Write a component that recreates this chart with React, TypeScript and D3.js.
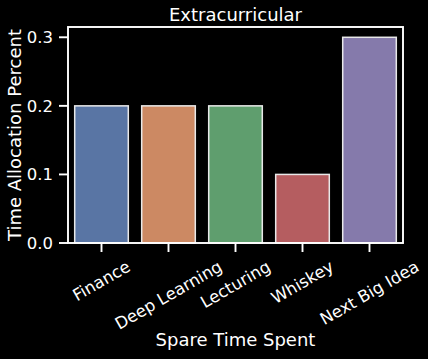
import React, { useEffect, useRef } from "react";
import * as d3 from "d3";

const categories = ["Finance", "Deep Learning", "Lecturing", "Whiskey", "Next Big Idea"];
const values = [0.2, 0.2, 0.2, 0.1, 0.3];
const colors = ["#5975a4", "#cc8963", "#5f9e6e", "#b55d60", "#857aab"];
const yTicks = [0.0, 0.1, 0.2, 0.3];

const W = 428, H = 359;
const L = 68, R = 403, T = 27, B = 243;
const FONT = "'DejaVu Sans', sans-serif";

export default function App() {
  const ref = useRef<SVGSVGElement>(null);
  useEffect(() => {
    const svg = d3.select(ref.current!);
    svg.selectAll("*").remove();
    svg.append("rect").attr("width", W).attr("height", H).attr("fill", "#000");

    const x = d3.scaleBand<string>().domain(categories).range([L, R]).paddingInner(0.2).paddingOuter(0.1);
    const y = d3.scaleLinear().domain([0, 0.315]).range([B, T]);

    svg.append("g").selectAll("rect").data(values).join("rect")
      .attr("x", (_, i) => x(categories[i])!)
      .attr("width", x.bandwidth())
      .attr("y", d => y(d))
      .attr("height", d => B - y(d))
      .attr("fill", (_, i) => colors[i])
      .attr("stroke", "#e8e8e8")
      .attr("stroke-width", 1.5);

    // frame
    svg.append("rect").attr("x", L).attr("y", T).attr("width", R - L).attr("height", B - T)
      .attr("fill", "none").attr("stroke", "#fff").attr("stroke-width", 1.9);

    // y ticks
    const yg = svg.append("g");
    yTicks.forEach(t => {
      yg.append("line").attr("x1", L - 9).attr("x2", L).attr("y1", y(t)).attr("y2", y(t))
        .attr("stroke", "#fff").attr("stroke-width", 1.9);
      yg.append("text").attr("x", L - 15).attr("y", y(t)).attr("dy", "0.35em")
        .attr("text-anchor", "end").attr("fill", "#fff").attr("font-family", FONT)
        .attr("font-size", 16.5).text(d3.format(".1f")(t));
    });

    // x ticks
    const xg = svg.append("g");
    categories.forEach(c => {
      const cx = x(c)! + x.bandwidth() / 2;
      xg.append("line").attr("x1", cx).attr("x2", cx).attr("y1", B).attr("y2", B + 9)
        .attr("stroke", "#fff").attr("stroke-width", 1.9);
      const txt = xg.append("text").attr("fill", "#fff").attr("font-family", FONT)
        .attr("font-size", 16.5).attr("text-anchor", "middle").attr("dominant-baseline", "central")
        .text(c);
      const w = (txt.node() as SVGTextElement).getComputedTextLength();
      const h = 16.5 * 1.0;
      const top = B + 9 + 6;
      const bh = w * 0.5 + h * 0.866;
      txt.attr("transform", `translate(${cx},${top + bh / 2}) rotate(-30)`);
    });

    svg.append("text").attr("x", (L + R) / 2).attr("y", 21).attr("text-anchor", "middle")
      .attr("fill", "#fff").attr("font-family", FONT).attr("font-size", 18).text("Extracurricular");
    svg.append("text").attr("x", (L + R) / 2).attr("y", 346).attr("text-anchor", "middle")
      .attr("fill", "#fff").attr("font-family", FONT).attr("font-size", 18).text("Spare Time Spent");
    svg.append("text").attr("transform", `translate(21,${(T + B) / 2}) rotate(-90)`)
      .attr("text-anchor", "middle").attr("fill", "#fff").attr("font-family", FONT)
      .attr("font-size", 18).text("Time Allocation Percent");
  }, []);
  return (
    <svg ref={ref} width={W} height={H} style={{ position: "absolute", left: 0, top: 0, display: "block" }} />
  );
}
